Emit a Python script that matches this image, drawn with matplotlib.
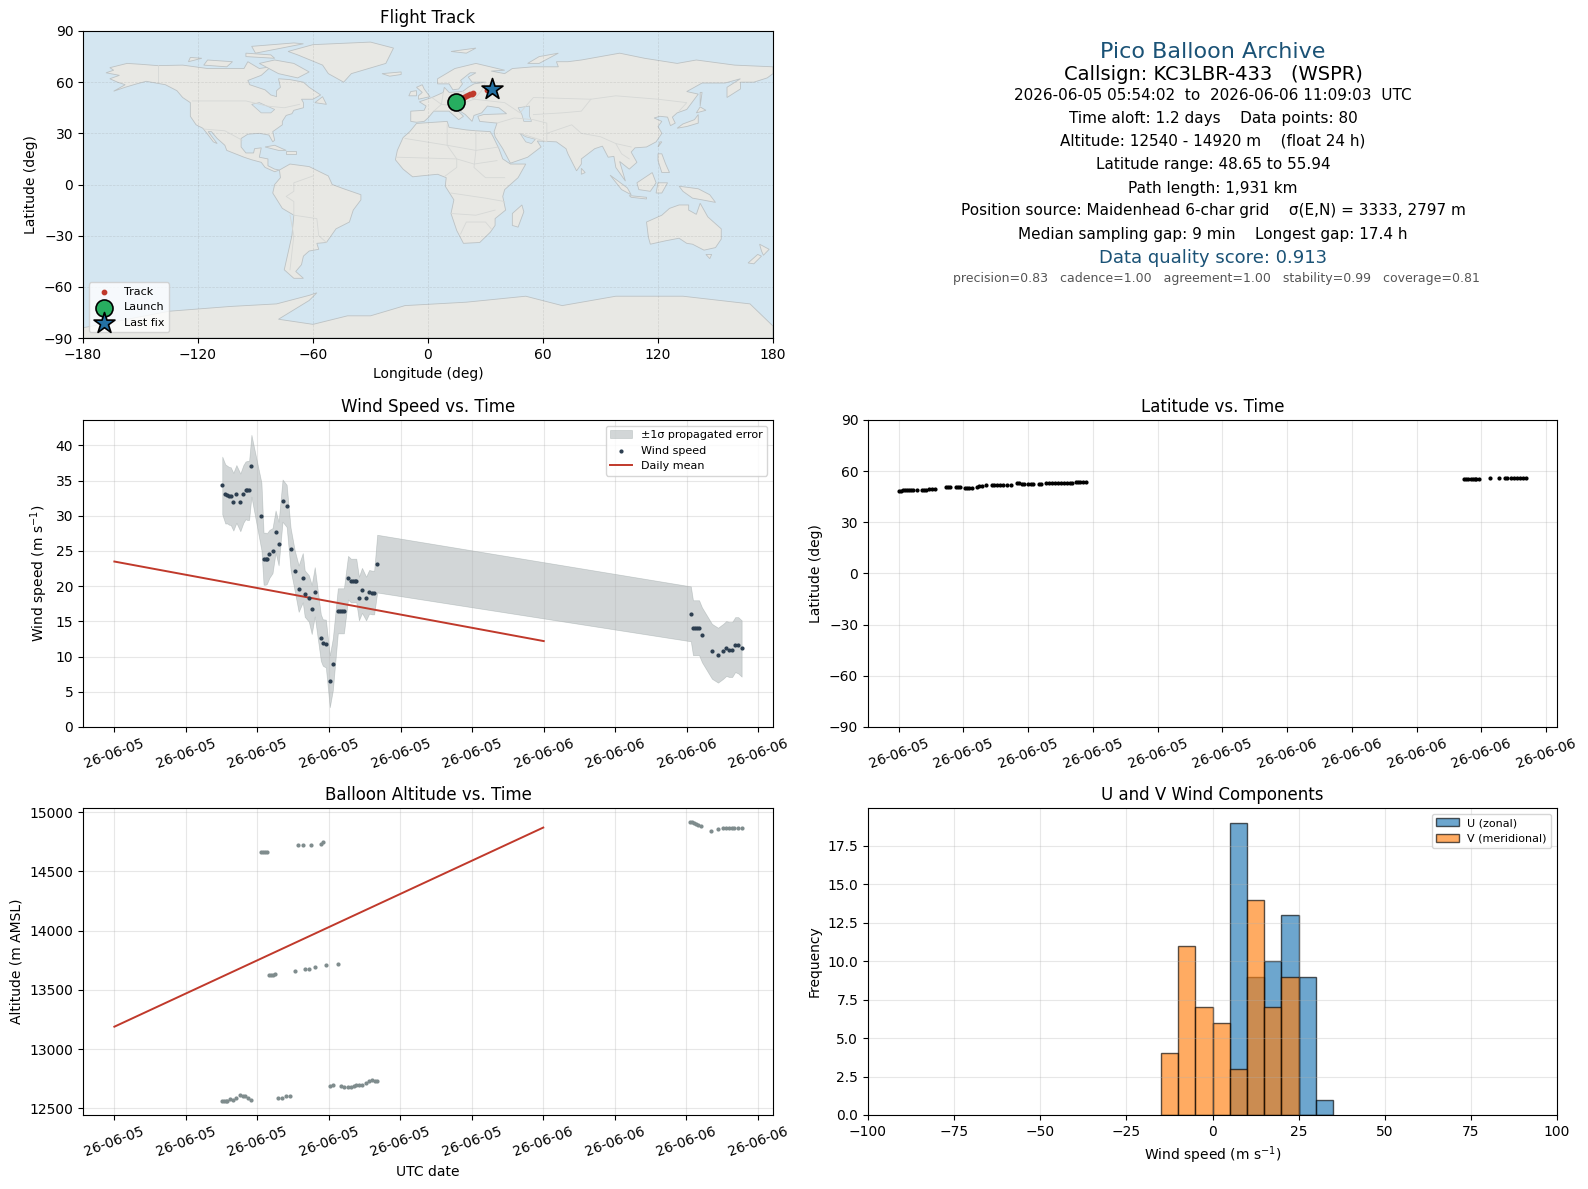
import matplotlib
matplotlib.use('Agg')
import matplotlib.pyplot as plt
import matplotlib.dates as mdates
from matplotlib.patches import Polygon
import pandas as pd

# hours since 2026-06-05 00:00 UTC
windHours = [6.03, 6.20, 6.31, 6.43, 6.50, 6.65, 6.82, 7.04, 7.21, 7.33, 7.44, 7.53, 7.66, 8.22, 8.34, 8.45, 8.52,
             8.67, 8.84, 9.01, 9.18, 9.40, 9.63, 9.85, 10.08, 10.30, 10.53, 10.64, 10.87, 11.03, 11.20, 11.54, 11.65,
             11.82, 12.04, 12.21, 12.49, 12.61, 12.72, 12.83, 13.06, 13.22, 13.34, 13.45, 13.52, 13.67, 13.84, 14.07,
             14.24, 14.40, 14.52, 14.69,
             32.22, 32.34, 32.45, 32.56, 32.68, 32.84, 33.40, 33.74, 34.03, 34.20, 34.36, 34.53, 34.70, 34.87, 35.06]
windSpeed = [34.3, 33.1, 33.0, 32.8, 32.8, 32.0, 33.1, 31.9, 33.1, 33.6, 33.6, 33.6, 37.1, 29.9, 23.9, 23.9, 23.9,
             24.6, 25.05, 27.75, 26.05, 32.15, 31.4, 25.3, 22.2, 19.65, 21.2, 18.95, 18.25, 16.7, 19.2, 12.7, 12.0,
             11.85, 6.5, 8.9, 16.5, 16.5, 16.5, 16.5, 21.2, 20.8, 20.8, 20.8, 20.8, 18.25, 19.4, 18.25,
             19.2, 19.1, 19.1, 23.2,
             16.07, 14.1, 14.1, 14.1, 14.1, 13.1, 10.75, 10.2, 10.75, 11.15, 11.0, 11.0, 11.7, 11.6, 11.15]
windErr = [4.1, 4.2, 4.1, 4.1, 4.1, 4.1, 4.1, 4.1, 4.1, 4.1, 4.2, 4.2, 4.4, 4.8, 3.7, 3.7, 3.6,
           3.4, 3.2, 3.0, 3.1, 3.0, 3.0, 3.0, 2.9, 3.3, 3.5, 3.3, 3.3, 3.5, 3.5, 3.3, 3.3,
           3.4, 3.7, 3.7, 3.2, 3.2, 3.2, 3.2, 3.1, 3.1, 3.1, 3.1, 3.1, 3.1, 3.2, 3.1,
           3.1, 3.1, 3.1, 4.1,
           3.9, 3.9, 3.9, 3.9, 3.9, 3.9, 3.9, 3.9, 3.9, 3.9, 3.9, 3.9, 3.9, 4.0, 4.0]

dailyHours = [0, 24]
dailyWind = [23.5, 12.2]
dailyAlt = [13190, 14870]

altHours = [6.03, 6.15, 6.26, 6.31, 6.48, 6.65, 6.82, 7.04, 7.21, 7.33, 7.49, 7.66, 8.22, 8.34, 8.45, 8.52, 8.67, 8.79,
            8.90, 9.01, 9.18, 9.40, 9.63, 9.85, 10.08, 10.30, 10.53, 10.64, 10.87, 11.03, 11.20, 11.54, 11.65, 11.82,
            12.04, 12.21, 12.49, 12.66, 12.83, 13.06, 13.22, 13.39, 13.51, 13.67, 13.84, 14.07, 14.24, 14.40, 14.57,
            14.69,
            32.23, 32.34, 32.45, 32.56, 32.68, 32.85, 33.41, 33.75, 34.03, 34.20, 34.37, 34.54, 34.70, 34.87, 35.10]
altitude = [12562, 12562, 12562, 12565, 12579, 12570, 12587, 12612, 12607, 12604, 12587, 12570, 14662, 14662, 14662,
            14662, 13625, 13625, 13628, 13636, 12587, 12587, 12604, 12604, 13658, 14722, 14722, 13675, 13675, 14722,
            13692, 14730, 14747, 13709, 12688, 12697, 13718, 12688, 12680, 12680, 12680, 12688, 12697, 12697, 12697,
            12714, 12731, 12739, 12731, 12731,
            14916, 14916, 14907, 14899, 14890, 14882, 14840, 14857, 14865, 14865, 14865, 14865, 14865, 14865, 14865]

latHours = [6.03, 6.12, 6.22, 6.31, 6.40, 6.49, 6.58, 6.68, 6.85, 7.08, 7.17, 7.26, 7.40, 7.54, 7.69, 8.20, 8.29, 8.38,
            8.65, 8.74, 8.83, 9.05, 9.18, 9.28, 9.42, 9.65, 9.74, 9.88, 10.06, 10.34, 10.43, 10.57, 10.71, 10.85, 11.03,
            11.22, 11.49, 11.58, 11.72, 11.82, 12.00, 12.14, 12.23, 12.51, 12.60, 12.83, 12.97, 13.11, 13.25, 13.38,
            13.52, 13.66, 13.80, 13.94, 14.03, 14.22, 14.31, 14.40, 14.54, 14.68,
            32.20, 32.30, 32.40, 32.50, 32.60, 32.70, 32.77, 32.90, 33.40, 33.80, 34.08, 34.20, 34.36, 34.50, 34.64,
            34.78, 34.92, 35.05]
latitude = [48.65, 48.65, 48.7, 48.7, 48.7, 48.75, 48.75, 48.8, 49.2, 49.2, 49.2, 49.25, 49.3, 49.35, 49.8,
            50.5, 50.5, 50.5, 50.5, 50.5, 50.5, 50.3, 50.3, 50.3, 50.35, 51.0, 51.1, 51.1, 51.8, 51.7, 51.7, 51.7,
            51.65, 51.6, 51.6, 51.6, 52.8, 52.9, 52.7, 52.4, 52.3, 52.3, 52.3, 52.2, 52.3, 52.8, 52.9, 52.9, 52.9,
            52.9, 52.9, 52.9, 52.8, 52.8, 52.8, 53.5, 53.5, 53.5, 53.6, 53.6,
            55.25, 55.25, 55.25, 55.25, 55.25, 55.25, 55.25, 55.3, 55.8, 55.8, 55.8, 55.8, 55.85, 55.85, 55.85,
            55.85, 55.9, 55.94]

trackLon = [14.5, 15.0, 16.0, 17.0, 18.0, 19.0, 20.0, 21.0, 22.0, 23.0, 23.5, 31.0, 31.5, 33.5]
trackLat = [48.65, 49.2, 49.8, 50.3, 50.5, 51.1, 51.7, 52.3, 52.8, 53.2, 53.6, 55.25, 55.6, 55.94]

histCentres = [-12.5, -7.5, -2.5, 2.5, 7.5, 12.5, 17.5, 22.5, 27.5, 32.5]
uCounts = [0, 0, 0, 0, 19, 9, 10, 13, 9, 1]
vCounts = [4, 11, 7, 6, 3, 14, 7, 9, 0, 0]

infoLines = [
    ('Pico Balloon Archive', 16, '#1a5276', 52),
    ('Callsign: KC3LBR-433   (WSPR)', 14, 'black', 75),
    ('2026-06-05 05:54:02  to  2026-06-06 11:09:03  UTC', 11, 'black', 96),
    ('Time aloft: 1.2 days    Data points: 80', 11, 'black', 118),
    ('Altitude: 12540 - 14920 m    (float 24 h)', 11, 'black', 141),
    ('Latitude range: 48.65 to 55.94', 11, 'black', 164),
    ('Path length: 1,931 km', 11, 'black', 188),
    ('Position source: Maidenhead 6-char grid    σ(E,N) = 3333, 2797 m', 11, 'black', 211),
    ('Median sampling gap: 9 min    Longest gap: 17.4 h', 11, 'black', 234),
    ('Data quality score: 0.913', 13, '#1a5276', 258),
]
scoreDetail = 'precision=0.83   cadence=1.00   agreement=1.00   stability=0.99   coverage=0.81'

# rough coastlines, lon/lat
landShapes = [
    [(-168, 65.5), (-164, 67), (-166, 68.5), (-157, 71), (-150, 70.5), (-141, 69.7), (-128, 70), (-115, 68), (-108, 68),
     (-96, 68), (-94, 72), (-88, 68), (-82, 69), (-87, 64), (-94, 61), (-93, 58.5), (-85, 55.5), (-82, 52.5), (-79, 51.5),
     (-79, 55), (-77, 57), (-78, 62), (-72, 61.5), (-65, 60), (-62, 57), (-56, 52.5), (-60, 50), (-66, 50), (-65, 48),
     (-65, 45), (-70, 43.5), (-71, 41.5), (-74, 40.5), (-76, 37), (-76, 35), (-81, 31), (-80, 26), (-81, 25), (-83, 29),
     (-88, 30), (-94, 29.5), (-97.5, 27), (-97.5, 22), (-95, 18.5), (-91, 18.5), (-90.5, 21), (-87, 21.5), (-88, 16),
     (-83.5, 15), (-83.5, 11), (-80, 9), (-77.5, 8.5), (-80, 7.5), (-85, 10), (-87, 13), (-92, 14.5), (-96, 16), (-105, 20),
     (-106, 23), (-110, 27), (-113, 31), (-114.7, 31), (-110, 24), (-112, 25), (-115, 29.5), (-117.5, 33), (-121, 35),
     (-124, 40), (-124, 48), (-128, 51), (-131, 55), (-137, 58.5), (-147, 60.5), (-152, 59), (-158, 57), (-164, 54.7),
     (-158, 58.5), (-162, 60), (-166, 62), (-161, 64)],
    [(-77.5, 8.5), (-72, 12), (-62, 10.5), (-52, 5), (-50, 0), (-44, -2.5), (-35, -6), (-35, -9), (-39, -15), (-41, -22),
     (-48, -26), (-53, -34), (-58, -34.5), (-57, -38), (-62, -39), (-65, -42), (-66, -47), (-69, -51), (-65, -55), (-70, -55),
     (-75, -50), (-73, -40), (-71, -30), (-70, -18), (-76, -14), (-81, -5), (-80, 0), (-77, 4)],
    [(-6, 35.8), (10, 37), (11, 33.5), (20, 32), (25, 31.5), (32.5, 31), (34, 28), (37, 21), (39, 15), (43, 12), (51, 12),
     (47, 4), (40, -3), (39, -7), (40.5, -15), (35, -20), (35, -24), (32.5, -28), (27, -34), (18.5, -34.5), (15, -27),
     (12, -17), (13.5, -9), (9, -1), (9.5, 4), (5, 6), (-4, 5), (-8, 4.5), (-13, 9), (-17, 14.5), (-16, 20), (-13, 27.5),
     (-9.5, 31)],
    [(-9, 37), (-9, 43), (-2, 43.5), (-1, 46), (-4.5, 48.5), (2, 51), (8, 54), (8.5, 57), (11, 54), (18, 54.5), (21, 57),
     (24, 59), (30, 60), (23, 60), (21, 63), (25, 65.5), (22, 65.5), (17, 61), (18, 59), (16, 56), (13, 55.5), (11, 59),
     (5, 59), (5, 62), (14, 68), (25, 71), (40, 67), (33, 66.5), (40, 65), (44, 68), (55, 69), (68, 69), (67, 72), (73, 72),
     (80, 73), (100, 77), (113, 74), (130, 71), (140, 73), (160, 70), (180, 69), (180, 65), (177, 62.5), (170, 60), (163, 60),
     (163, 56), (156, 51), (156, 57), (163, 62), (155, 59.5), (143, 59.5), (135, 54.5), (141, 53), (135, 44), (130, 42),
     (127.5, 39.5), (129, 36), (126.5, 34.5), (125, 39.5), (121, 40), (118, 39), (122, 37), (120, 34), (122, 30), (119, 25),
     (114, 22), (108, 21.5), (106, 19), (109, 13), (105, 9), (100, 13.5), (103, 2), (100.5, 6), (98, 10), (97, 16.5), (94, 16),
     (91, 22.5), (87, 21), (80, 15), (80, 12), (77.5, 8), (73, 18), (72, 21), (67, 25), (57, 25.5), (59, 22), (52, 16),
     (43, 12.5), (39, 21), (35, 28), (34.5, 31), (36, 36), (27, 37), (26, 40), (29, 41), (41, 41.5), (37, 45), (31, 46),
     (28, 42), (24, 40.5), (23, 37), (19.5, 41), (14, 45), (18.5, 40), (16, 38), (11, 43), (3, 43), (0, 39), (-2, 37), (-6, 36.5)],
    [(-73, 78), (-60, 82), (-30, 83.5), (-18, 80), (-22, 71), (-40, 65), (-44, 60), (-52, 65), (-55, 70), (-68, 76)],
    [(-80, 73), (-70, 71), (-62, 66), (-68, 62.5), (-78, 65), (-88, 71)],
    [(-90, 77), (-65, 82.5), (-70, 83), (-92, 81)],
    [(-117, 70), (-105, 69), (-102, 72), (-115, 73)],
    [(-125, 72), (-118, 74), (-124, 74.5)],
    [(-95, 75), (-80, 74), (-82, 76), (-95, 77)],
    [(-59, 48), (-53, 47), (-55, 51.5)],
    [(-85, 22), (-80, 23), (-74, 20), (-78, 20)],
    [(-74, 19.5), (-69, 19.5), (-69, 18), (-74, 18)],
    [(-24, 65), (-14, 66), (-14, 64.5), (-20, 63.5)],
    [(-5, 50), (1, 51.5), (-2, 56), (-3, 58.5), (-6, 57), (-3, 54), (-5, 52)],
    [(-10, 52), (-6, 52), (-6, 55), (-9, 54.5)],
    [(12, 78), (25, 80), (20, 77)],
    [(52, 71), (58, 71), (68, 77), (58, 75)],
    [(130, 33), (135, 34), (141, 36), (141, 41), (139, 38), (133, 35.5)],
    [(140, 42), (145, 43.5), (142, 45.5)],
    [(142, 46), (143, 54), (142, 54)],
    [(120, 22), (122, 25), (121, 25)],
    [(49, -12), (50, -16), (47, -25), (44, -24), (44, -17)],
    [(80, 9.5), (82, 7), (80, 6)],
    [(95, 5.5), (104, -2), (106, -6), (101, -3)],
    [(105, -6.5), (114, -7.5), (114, -8.5), (106, -7.5)],
    [(109, 1), (117, 7), (119, 1), (116, -4), (110, -3)],
    [(120, 1), (125, 1), (122, -5), (119, -5)],
    [(131, -1), (141, -2.5), (147, -6), (150, -10.5), (143, -9), (138, -8), (133, -4)],
    [(120, 18), (122, 18), (124, 12), (126, 7), (122, 7), (120, 14)],
    [(114, -22), (122, -18), (126, -14), (131, -12), (136, -12), (136, -15), (140, -17.5), (142, -11), (146, -19), (153, -26),
     (153, -32), (150, -37), (144, -38.5), (138, -35), (135, -34.5), (131, -31.5), (124, -33), (116, -35), (115, -31)],
    [(145, -41), (148, -41), (147, -43.5)],
    [(173, -35), (178, -38), (175, -41.5), (174, -39)],
    [(172, -41), (174, -42), (170, -46.5), (167, -46)],
    [(-180, -90), (-180, -84), (-135, -74.3), (-103, -71.5), (-79, -70), (-62, -65), (-58, -63.5), (-62, -68), (-78, -79),
     (-60, -82), (-42, -77), (-30, -77), (-12, -71), (20, -69), (51, -65.5), (70, -71), (98, -65.5), (133, -65.5),
     (168, -70), (180, -83), (180, -90)],
]
lakeShapes = [
    [(47, 45), (53, 46), (53, 40), (54, 37), (50, 37), (49, 41)],
    [(48, 30), (51, 28), (56, 26.5), (54, 24), (51, 25)],
    [(-88, 48), (-84, 46), (-80, 44), (-82, 42), (-87, 42), (-92, 47)],
]
borderLines = [
    [(-141, 70), (-141, 60)],
    [(-123, 49), (-95, 49), (-84, 46), (-75, 45), (-67, 47)],
    [(-117, 32.5), (-106, 31.5), (-97, 26)],
    [(-70, -18), (-58, -20), (-57, -30), (-53, -34)],
    [(-70, -18), (-70, -10), (-74, -7), (-70, -4), (-70, 1), (-60, 5)],
    [(-72, -18), (-70, -30), (-72, -50)],
    [(-12, 27), (10, 23), (25, 20), (37, 22)],
    [(25, 31.5), (25, 20), (24, 10), (30, 4), (40, 4)],
    [(-16, 16), (15, 15), (24, 12), (36, 14)],
    [(9, 5), (15, 10), (15, 15), (10, 23), (10, 35)],
    [(12, -5), (30, -8), (40, -10)],
    [(12, -17), (25, -18), (35, -15)],
    [(17, -29), (20, -22), (30, -22), (33, -26)],
    [(30, 60), (28, 55), (24, 50), (40, 48), (48, 42), (55, 51), (85, 50), (98, 52), (120, 50), (135, 48), (131, 43)],
    [(55, 41), (70, 42), (80, 43), (85, 50)],
    [(48, 30), (62, 25), (62, 36), (55, 38), (45, 39), (36, 36)],
    [(62, 30), (75, 35), (80, 30), (90, 28), (98, 24), (106, 22)],
    [(8, 54), (7, 47), (14, 46), (24, 50), (18, 54.5)],
    [(2, 51), (7, 47), (3, 43)],
    [(98, 24), (101, 18), (105, 15)],
]

seaColour = '#d4e6f1'
landColour = '#e8e8e4'
redLine = '#c0392b'
darkBlue = '#2c3e50'
greyPoints = '#7f8c8d'
figW, figH = 1588, 1189


def pixelAxes(fig, left, top, right, bottom):
    return fig.add_axes([left / figW, 1 - bottom / figH, (right - left) / figW, (bottom - top) / figH])


def toTimes(hours):
    return pd.Timestamp('2026-06-05') + pd.to_timedelta(hours, unit='h')


def setTimeAxis(ax, step):
    ax.xaxis.set_major_locator(mdates.HourLocator(byhour=range(0, 24, step)))
    ax.xaxis.set_major_formatter(mdates.DateFormatter('%y-%m-%d'))
    ax.tick_params(axis='x', labelrotation=20)


def drawMap(ax):
    ax.set_facecolor(seaColour)
    for shape in landShapes:
        ax.add_patch(Polygon(shape, closed=True, facecolor=landColour, edgecolor='#bcc2c4', linewidth=0.6, zorder=1))
    for shape in lakeShapes:
        ax.add_patch(Polygon(shape, closed=True, facecolor=seaColour, edgecolor='#bcc2c4', linewidth=0.5, zorder=1.1))
    for line in borderLines:
        ax.plot([p[0] for p in line], [p[1] for p in line], color='#d6d8d6', linewidth=0.6, zorder=1.2)
    ax.scatter(trackLon, trackLat, s=10, color=redLine, zorder=3, label='Track')
    ax.scatter(trackLon[0], trackLat[0], s=150, color='#27ae60', edgecolor='black', linewidth=1.2, zorder=4, label='Launch')
    ax.scatter(trackLon[-1], trackLat[-1], s=250, marker='*', color='#2471a3', edgecolor='black', linewidth=1.2, zorder=5, label='Last fix')
    ax.set_xlim(-180, 180)
    ax.set_ylim(-90, 90)
    ax.set_xticks(range(-180, 181, 60))
    ax.set_yticks(range(-90, 91, 30))
    ax.grid(True, linestyle='--', linewidth=0.5, alpha=0.22, color='gray')
    ax.set_title('Flight Track', fontsize=12)
    ax.set_xlabel('Longitude (deg)')
    ax.set_ylabel('Latitude (deg)')
    ax.legend(loc='lower left', fontsize=8)


def drawInfo(fig):
    for text, size, colour, y in infoLines:
        fig.text(1213 / figW, 1 - y / figH, text, fontsize=size, color=colour, ha='center', va='center')
    fig.text(1216 / figW, 1 - 279 / figH, scoreDetail, fontsize=9, color='#555555', ha='center', va='center')


def drawWind(ax):
    times = toTimes(windHours)
    lower = [v - e for v, e in zip(windSpeed, windErr)]
    upper = [v + e for v, e in zip(windSpeed, windErr)]
    ax.fill_between(times, lower, upper, color=greyPoints, alpha=0.35, linewidth=0.5, label='±1σ propagated error')
    ax.scatter(times, windSpeed, s=4, color=darkBlue, zorder=3, label='Wind speed')
    ax.plot(toTimes(dailyHours), dailyWind, color=redLine, linewidth=1.4, label='Daily mean')
    ax.set_ylim(0, 43.6)
    setTimeAxis(ax, 4)
    ax.grid(True, alpha=0.3)
    ax.set_title('Wind Speed vs. Time', fontsize=12)
    ax.set_ylabel('Wind speed (m s$^{-1}$)')
    ax.legend(loc='upper right', fontsize=8)


def drawLatitude(ax):
    ax.scatter(toTimes(latHours), latitude, s=4, color='black', zorder=3)
    ax.set_ylim(-90, 90)
    ax.set_yticks(range(-90, 91, 30))
    setTimeAxis(ax, 3)
    ax.grid(True, alpha=0.3)
    ax.set_title('Latitude vs. Time', fontsize=12)
    ax.set_ylabel('Latitude (deg)')


def drawAltitude(ax):
    ax.scatter(toTimes(altHours), altitude, s=4, color=greyPoints, zorder=3)
    ax.plot(toTimes(dailyHours), dailyAlt, color=redLine, linewidth=1.4)
    ax.set_ylim(12445, 15035)
    setTimeAxis(ax, 4)
    ax.grid(True, alpha=0.3)
    ax.set_title('Balloon Altitude vs. Time', fontsize=12)
    ax.set_xlabel('UTC date')
    ax.set_ylabel('Altitude (m AMSL)')


def drawHist(ax):
    ax.bar(histCentres, uCounts, width=5, alpha=0.65, color='tab:blue', edgecolor='black', label='U (zonal)')
    ax.bar(histCentres, vCounts, width=5, alpha=0.65, color='tab:orange', edgecolor='black', label='V (meridional)')
    ax.set_xlim(-100, 100)
    ax.grid(True, alpha=0.3)
    ax.set_title('U and V Wind Components', fontsize=12)
    ax.set_xlabel('Wind speed (m s$^{-1}$)')
    ax.set_ylabel('Frequency')
    ax.legend(loc='upper right', fontsize=8)


def main():
    fig = plt.figure(figsize=(figW / 100, figH / 100), dpi=100)
    drawMap(pixelAxes(fig, 83, 31, 773, 338))
    drawInfo(fig)
    drawWind(pixelAxes(fig, 83, 420, 773, 727))
    drawLatitude(pixelAxes(fig, 868, 420, 1557, 727))
    drawAltitude(pixelAxes(fig, 83, 808, 773, 1115))
    drawHist(pixelAxes(fig, 868, 808, 1557, 1115))
    fig.savefig('out.png', dpi=100)


if __name__ == "__main__":
    main()
